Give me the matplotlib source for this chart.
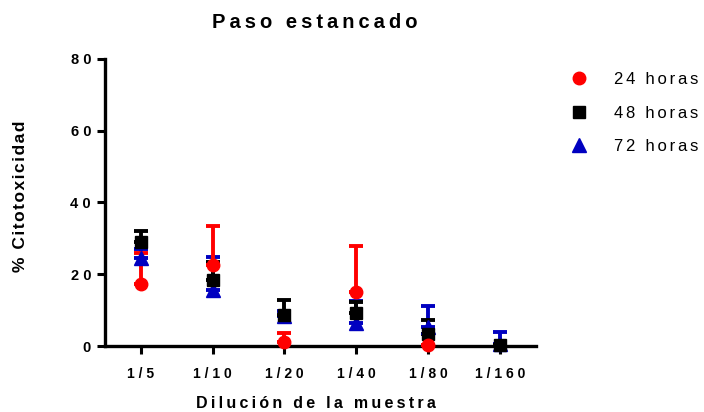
import matplotlib
matplotlib.use("Agg")
import matplotlib.pyplot as plt
from matplotlib.lines import Line2D
import numpy as np

plt.rcParams["font.family"] = ["Liberation Sans", "DejaVu Sans"]

dilutions = ["1/5", "1/10", "1/20", "1/40", "1/80", "1/160"]
h24 = [17.3, 22.6, 1.1, 15.1, 0.3, np.nan]
h24_err = [8.6, 10.8, 2.5, 12.8, 0.0, np.nan]
h48 = [29.0, 18.4, 8.6, 9.2, 3.3, 0.3]
h48_err = [3.0, 5.0, 4.2, 3.2, 3.9, 0.0]
h72 = [24.5, 15.6, 8.3, 6.4, 5.3, 0.5]
h72_err = [2.5, 9.2, 1.5, 6.1, 5.8, 3.4]
labels = ["24 horas", "48 horas", "72 horas"]
y_ticks = [0, 20, 40, 60, 80]

HAIR = "\u200a"
THIN = "\u2009"


def sp(s, gap=HAIR):
    # prism-like letter spacing
    return gap.join(s)


fig = plt.figure(figsize=[7.04, 4.12], dpi=100)
ax = fig.add_axes([0.149, 0.160, 0.612, 0.697])

x = np.arange(len(dilutions))
series = [
    (h72, h72_err, "#0000c0", "^", 10),
    (h48, h48_err, "black", "s", 9),
    (h24, h24_err, "#ff0000", "o", 9),
]
for vals, err, col, mk, ms in series:
    vals = np.array(vals)
    err = np.array(err)
    ax.errorbar(x, vals, yerr=[np.zeros_like(err), err], fmt=mk, color=col,
                ms=ms, elinewidth=2.8, capsize=5, capthick=2.8, clip_on=False,
                zorder=3)

ax.set_xlim(-0.5, 5.5)
ax.set_ylim(0, 80)
ax.set_xticks(x)
ax.set_xticklabels([sp(d, THIN + HAIR) for d in dilutions], fontweight="bold", fontsize=10)
ax.set_yticks(y_ticks)
ax.set_yticklabels([sp(str(t), THIN + HAIR) for t in y_ticks], fontweight="bold", fontsize=10.5)
ax.tick_params(width=2.2, length=6, pad=9)
ax.tick_params(axis="y", pad=4)

for s in ["top", "right"]:
    ax.spines[s].set_visible(False)
for s in ["left", "bottom"]:
    ax.spines[s].set_linewidth(2.4)

ax.set_title(sp("Paso estancado", THIN), fontweight="bold", fontsize=14.5, pad=22, x=0.487)
ax.set_xlabel(sp("Dilución de la muestra", THIN), fontweight="bold", fontsize=11.5, va="center")
ax.xaxis.set_label_coords(0.49, -0.199)
ax.set_ylabel(sp("% Citotoxicidad"), fontweight="bold", fontsize=12.5, va="center")
ax.yaxis.set_label_coords(-0.197, 0.522)

handles = [
    Line2D([], [], ls="none", marker="o", color="#ff0000", ms=9),
    Line2D([], [], ls="none", marker="s", color="black", ms=9),
    Line2D([], [], ls="none", marker="^", color="#0000c0", ms=10),
]
fig.legend(handles, [sp(l, HAIR + HAIR) for l in labels], loc="upper left",
           bbox_to_anchor=(0.777, 0.861), frameon=False, fontsize=12,
           handletextpad=1.1, labelspacing=1.1)

fig.savefig("out.png", dpi=100)
